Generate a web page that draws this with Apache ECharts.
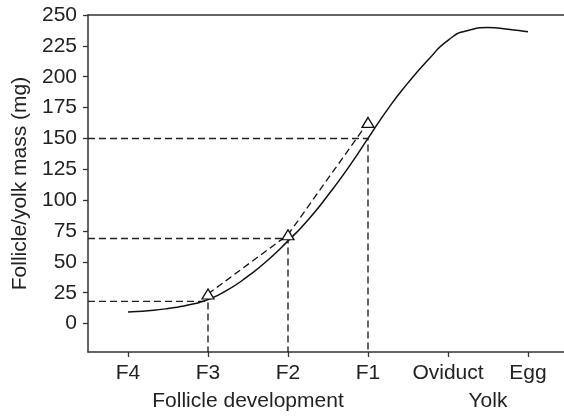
<!DOCTYPE html>
<html>
<head>
<meta charset="utf-8">
<script src="https://cdn.jsdelivr.net/npm/echarts@6/dist/echarts.min.js"></script>
<style>
  html, body { margin: 0; padding: 0; background: #fff; }
  #chart { width: 564px; height: 417px; }
</style>
</head>
<body>
<div id="chart"></div>
<script>
// stage positions on the x scale (F4 = 0 ... Egg = 5)
const stageLabels = ['F4', 'F3', 'F2', 'F1', 'Oviduct', 'Egg'];
const stagePos = [0, 1, 2, 3, 4, 5];
const groupLabels = ['Follicle development', 'Yolk'];
const groupPos = [1.5, 4.5];
const yTicks = [0, 25, 50, 75, 100, 125, 150, 175, 200, 225, 250];

// solid growth curve
const curveX = [0, 0.25, 0.5, 0.75, 1, 1.25, 1.5, 1.75, 2, 2.25, 2.5, 2.75, 3, 3.25, 3.5, 3.75, 4, 4.25, 4.5, 4.75, 5];
const curveY = [9.4, 10.4, 12.2, 15, 19.5, 27.5, 38.5, 51.5, 67, 84, 104, 126, 150, 174, 195, 213.5, 229.5, 237.5, 239.8, 238.5, 236.4];

// measured follicle masses (triangles)
const measX = [1, 2, 3];
const measY = [24, 72, 163];

// reference levels at F3, F2, F1
const refX = [1, 2, 3];
const refY = [18, 69, 150];

const X_MIN = -0.5, X_MAX = 5.45, Y_MIN = -23, Y_MAX = 250;
const ink = '#222';
const font = 'Liberation Sans, Arial, sans-serif';

const chart = echarts.init(document.getElementById('chart'));

const refSeries = refX.map(function (x, i) {
    return {
        type: 'line',
        data: [[X_MIN, refY[i]], [x, refY[i]], [x, Y_MIN]],
        symbol: 'none',
        silent: true,
        lineStyle: { color: ink, width: 1.4, type: [7, 4] },
        z: 1
    };
});

chart.setOption({
    animation: false,
    grid: { left: 88, right: 0, top: 15, bottom: 65 },
    xAxis: [
        {
            type: 'value', min: X_MIN, max: X_MAX,
            splitLine: { show: false },
            axisLine: { onZero: false, lineStyle: { color: '#333', width: 1.5 } },
            axisTick: { customValues: stagePos, length: 5, lineStyle: { color: '#333', width: 1.3 } },
            axisLabel: {
                customValues: stagePos,
                formatter: function (v) { return stageLabels[stagePos.indexOf(v)]; },
                color: ink, fontFamily: font, fontSize: 21, margin: 11
            }
        },
        {
            type: 'value', min: X_MIN, max: X_MAX, position: 'bottom',
            splitLine: { show: false },
            axisLine: { show: false, onZero: false },
            axisTick: { show: false },
            axisLabel: {
                customValues: groupPos,
                formatter: function (v) { return groupLabels[groupPos.indexOf(v)]; },
                color: ink, fontFamily: font, fontSize: 21, margin: 39
            }
        },
        {
            type: 'value', min: X_MIN, max: X_MAX, position: 'top',
            splitLine: { show: false },
            axisLine: { onZero: false, lineStyle: { color: '#333', width: 1.5 } },
            axisTick: { show: false },
            axisLabel: { show: false }
        }
    ],
    yAxis: {
        type: 'value', min: Y_MIN, max: Y_MAX,
        name: 'Follicle/yolk mass (mg)',
        nameLocation: 'middle', nameGap: 56,
        nameTextStyle: { color: ink, fontFamily: font, fontSize: 21 },
        splitLine: { show: false },
        axisLine: { show: true, onZero: false, lineStyle: { color: '#333', width: 1.5 } },
        axisTick: { show: true, customValues: yTicks, length: 5, lineStyle: { color: '#333', width: 1.3 } },
        axisLabel: { customValues: yTicks, color: ink, fontFamily: font, fontSize: 21, margin: 11 }
    },
    series: refSeries.concat([
        {
            type: 'line',
            data: curveX.map(function (x, i) { return [x, curveY[i]]; }),
            smooth: 0.6,
            symbol: 'none',
            lineStyle: { color: '#111', width: 1.5 },
            z: 3
        },
        {
            type: 'line',
            data: measX.map(function (x, i) { return [x, measY[i]]; }),
            symbol: 'triangle',
            symbolSize: [12, 10],
            itemStyle: { color: '#fff', borderColor: '#111', borderWidth: 1.3 },
            lineStyle: { color: '#111', width: 1.3, type: [7, 4] },
            z: 4
        }
    ])
});
</script>
</body>
</html>
